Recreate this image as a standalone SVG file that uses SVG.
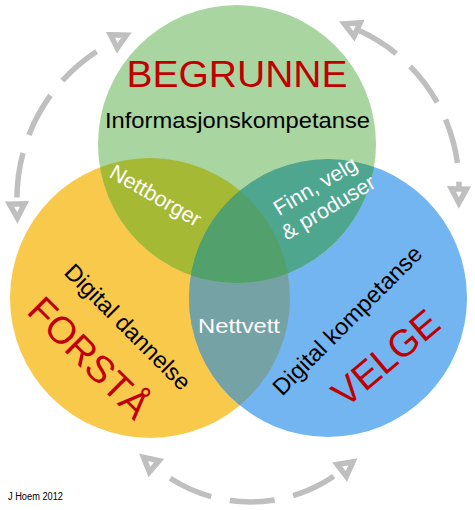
<svg xmlns="http://www.w3.org/2000/svg" width="475" height="510" viewBox="0 0 475 510">
<style>
text{font-family:"Liberation Sans",Arial,Helvetica,sans-serif;}
.red{fill:#c00000;}
.blk{fill:#000;}
.wht{fill:#fff;}
.arc{fill:none;stroke:#bfbfbf;stroke-width:5.5;stroke-dasharray:45 19;marker-start:url(#ah);marker-end:url(#ah);}
</style>
<defs>
<circle id="cg" cx="237" cy="144" r="139"/>
<circle id="cy" cx="150" cy="298" r="140"/>
<circle id="cb" cx="328" cy="298" r="139"/>
<clipPath id="clipY"><use href="#cy"/></clipPath>
<clipPath id="clipB"><use href="#cb"/></clipPath>
<marker id="ah" markerUnits="userSpaceOnUse" orient="auto-start-reverse" viewBox="-6 -16 36 32" markerWidth="36" markerHeight="32" refX="0" refY="0">
<path d="M1 -7.5 L15 0 L1 7.5 Z" fill="#fff" stroke="#bfbfbf" stroke-width="5.5" stroke-linejoin="miter"/>
</marker>
</defs>
<rect width="475" height="510" fill="#fff"/>

<g id="connectors">
<path class="arc" d="M113 42 A176 176 0 0 0 17 203" stroke-dashoffset="45"/>
<path class="arc" d="M358 30 A171 171 0 0 1 459 188"/>
<path class="arc" d="M155 467 A148 148 0 0 0 341 471" stroke-dashoffset="45"/>
</g>

<g id="circles">
<use href="#cy" fill="#f9c94b"/>
<use href="#cb" fill="#73b5f1"/>
<use href="#cg" fill="#a9d5a1"/>
<g clip-path="url(#clipY)"><use href="#cb" fill="#75a2a4"/><use href="#cg" fill="#a6b935"/></g>
<g clip-path="url(#clipB)"><use href="#cg" fill="#4fa68f"/></g>
<g clip-path="url(#clipY)"><g clip-path="url(#clipB)"><use href="#cg" fill="#52a06c"/></g></g>
</g>

<g id="node-begrunne">
<text class="red" x="237" y="87" font-size="36" text-anchor="middle" textLength="221" lengthAdjust="spacingAndGlyphs">BEGRUNNE</text>
<text class="blk" x="237.5" y="128" font-size="22" text-anchor="middle" textLength="265" lengthAdjust="spacingAndGlyphs">Informasjonskompetanse</text>
</g>

<g id="node-forsta">
<text class="blk" transform="translate(122,332.5) rotate(45)" font-size="23.5" text-anchor="middle">Digital dannelse</text>
<text class="red" transform="translate(80,367) rotate(45)" font-size="38" text-anchor="middle">FORSTÅ</text>
</g>

<g id="node-velge">
<text class="blk" transform="translate(353,326) rotate(-45)" font-size="23.5" text-anchor="middle">Digital kompetanse</text>
<text class="red" transform="translate(394,368) rotate(-40)" font-size="38" text-anchor="middle">VELGE</text>
</g>

<g id="node-nettborger">
<text class="wht" transform="translate(152,202) rotate(30)" font-size="21.5" text-anchor="middle">Nettborger</text>
</g>

<g id="node-finn">
<g transform="translate(325.5,203) rotate(-31)">
<text class="wht" x="0" y="-12.5" font-size="21.5" text-anchor="middle">Finn, velg</text>
<text class="wht" x="0" y="12.5" font-size="21.5" text-anchor="middle">&amp; produser</text>
</g>
</g>

<g id="node-nettvett">
<text class="wht" x="239" y="333" font-size="21" text-anchor="middle" textLength="82" lengthAdjust="spacingAndGlyphs">Nettvett</text>
</g>

<text class="blk" x="8" y="500" font-size="10" textLength="55" lengthAdjust="spacingAndGlyphs">J Hoem 2012</text>
</svg>
